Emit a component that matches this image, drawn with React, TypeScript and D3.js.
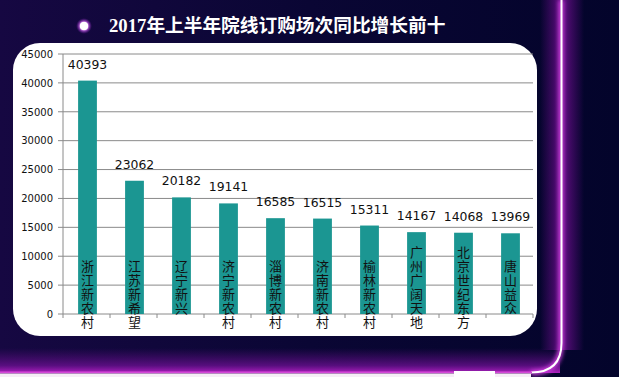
import React from "react";
import * as d3 from "d3";

const title = "2017年上半年院线订购场次同比增长前十";
const categories = [
  "浙江新农村",
  "江苏新希望",
  "辽宁新兴",
  "济宁新农村",
  "淄博新农村",
  "济南新农村",
  "榆林新农村",
  "广州广阔天地",
  "北京世纪东方",
  "唐山益众",
];
const values = [40393, 23062, 20182, 19141, 16585, 16515, 15311, 14167, 14068, 13969];
const yTicks = [0, 5000, 10000, 15000, 20000, 25000, 30000, 35000, 40000, 45000];

const W = 619;
const H = 377;
const plotLeft = 63;
const plotRight = 533;
const plotTop = 54;
const plotBottom = 314;

export default function App() {
  const x = d3.scaleBand<string>().domain(categories).range([plotLeft, plotRight]).paddingInner(0.6).paddingOuter(0.3);
  const band = d3.scaleBand<string>().domain(categories).range([plotLeft, plotRight]);
  const y = d3.scaleLinear().domain([0, 45000]).range([plotBottom, plotTop]);
  const font = "'DejaVu Sans', 'Noto Sans CJK SC', sans-serif";
  const cjk = "'Noto Sans CJK SC', sans-serif";

  return (
    <svg width={W} height={H} style={{ position: "absolute", left: 0, top: 0 }}>
      <defs>
        <linearGradient id="bg" x1="0" x2="1" y1="0" y2="0">
          <stop offset="0" stopColor="#160842" />
          <stop offset="0.5" stopColor="#0a0634" />
          <stop offset="1" stopColor="#03042b" />
        </linearGradient>
        <linearGradient id="glowV" x1="0" x2="1" y1="0" y2="0">
          <stop offset="0" stopColor="#5a0c7c" stopOpacity="0" />
          <stop offset="0.45" stopColor="#5e0c80" stopOpacity="0.95" />
          <stop offset="0.55" stopColor="#5e0c80" stopOpacity="0.95" />
          <stop offset="1" stopColor="#5a0c7c" stopOpacity="0" />
        </linearGradient>
        <linearGradient id="glowH" x1="0" x2="0" y1="0" y2="1">
          <stop offset="0" stopColor="#5a0c7c" stopOpacity="0" />
          <stop offset="0.7" stopColor="#6a1090" stopOpacity="0.8" />
          <stop offset="1" stopColor="#b020c0" stopOpacity="1" />
        </linearGradient>
        <radialGradient id="dot">
          <stop offset="0" stopColor="#ffffff" />
          <stop offset="0.45" stopColor="#ffffff" />
          <stop offset="0.6" stopColor="#c060e0" stopOpacity="0.8" />
          <stop offset="1" stopColor="#6a10a0" stopOpacity="0" />
        </radialGradient>
        <filter id="blur" x="-50%" y="-50%" width="200%" height="200%">
          <feGaussianBlur stdDeviation="2" />
        </filter>
      </defs>
      <rect x={0} y={0} width={W} height={H} fill="url(#bg)" />
      {/* right glow */}
      <rect x={540} y={0} width={44} height={350} fill="url(#glowV)" />
      {/* bottom glow */}
      <rect x={0} y={348} width={560} height={25} fill="url(#glowH)" />
      <path d="M561,0 L561,343 Q561,373 531,373" fill="none" stroke="#d040e0" strokeWidth={5} filter="url(#blur)" />
      <path d="M561.5,0 L561.5,343 Q561.5,372.5 531,372.5" fill="none" stroke="#ffffff" strokeWidth={2} />
      <rect x={0} y={371.5} width={532} height={2} fill="#d548d8" />
      <rect x={0} y={373.5} width={531} height={4} fill="#f6eef6" />
      <rect x={454} y={371} width={41} height={6} fill="#ffffff" />

      {/* title */}
      <circle cx={84} cy={26} r={8} fill="url(#dot)" />
      <circle cx={84} cy={26} r={4} fill="#ffffff" />
      <text x={109} y={32} fill="#ffffff" fontSize={18.7} fontWeight="bold" fontFamily="'Liberation Serif', 'Noto Sans CJK SC', serif">
        {title}
      </text>

      {/* panel */}
      <rect x={13} y={43} width={524} height={293} rx={27} ry={27} fill="#ffffff" />

      {/* gridlines */}
      {yTicks.map((t) => (
        <g key={t}>
          {t > 0 && <line x1={plotLeft} x2={plotRight} y1={y(t)} y2={y(t)} stroke="#8a8a8a" strokeWidth={1} />}
          <line x1={plotLeft - 5} x2={plotLeft} y1={y(t)} y2={y(t)} stroke="#8a8a8a" strokeWidth={1} />
          <text x={53} y={y(t) + 3.8} textAnchor="end" fontSize={10} fontFamily={font} fill="#111">
            {t}
          </text>
        </g>
      ))}
      <line x1={plotLeft} x2={plotLeft} y1={plotTop} y2={plotBottom} stroke="#8a8a8a" strokeWidth={1} />
      <line x1={plotLeft} x2={plotRight} y1={plotBottom} y2={plotBottom} stroke="#8a8a8a" strokeWidth={1} />
      {categories.map((c) => (
        <line key={"t" + c} x1={band(c)!} x2={band(c)!} y1={plotBottom} y2={plotBottom + 4} stroke="#8a8a8a" />
      ))}
      <line x1={plotRight} x2={plotRight} y1={plotBottom} y2={plotBottom + 4} stroke="#8a8a8a" />

      {/* bars */}
      {categories.map((c, i) => {
        const bx = x(c)! + 1;
        const bw = x.bandwidth();
        const cx = bx + bw / 2;
        const n = Array.from(c).length;
        const startY = 266 - 14.1 * Math.max(0, n - 5);
        return (
          <g key={c}>
            <rect x={bx} y={y(values[i])} width={bw} height={plotBottom - y(values[i])} fill="#1b9692" />
            <text x={cx} y={y(values[i]) - 12} textAnchor="middle" fontSize={12.4} fontFamily={font} fill="#111">
              {values[i]}
            </text>
            <text
              x={cx}
              y={startY - 6.5}
              fontSize={13}
              fontFamily={cjk}
              fill="#111"
              style={{ writingMode: "vertical-rl", letterSpacing: "1.1px" }}
            >
              {c}
            </text>
          </g>
        );
      })}
    </svg>
  );
}
